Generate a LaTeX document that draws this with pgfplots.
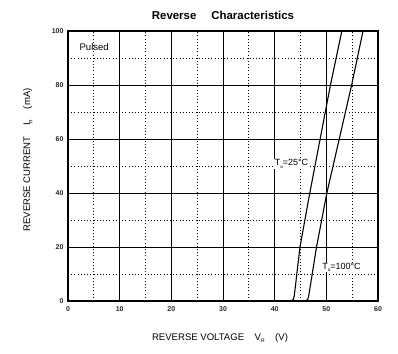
\documentclass[border=0pt]{standalone}
\usepackage{pgfplots}
\pgfplotsset{compat=1.18}
\usepackage{fontspec}
\setmainfont{Liberation Sans}
\begin{document}
\begin{tikzpicture}
\useasboundingbox (0,0) rectangle (398bp,354bp);
\begin{axis}[
  at={(68bp,53bp)}, anchor=south west,
  width=310bp, height=270bp, scale only axis,
  xmin=0, xmax=60, ymin=0, ymax=100,
  xtick={0,10,...,60}, ytick={0,20,...,100},
  minor x tick num=1, minor y tick num=1,
  grid=both,
  major grid style={black, line width=0.9pt},
  minor grid style={black, line width=0.9pt, dash pattern=on 1pt off 2.2pt},
  axis line style={black, line width=1.2pt},
  major tick length=0pt, minor tick length=0pt,
  tick label style={font=\bfseries\fontsize{7}{8}\selectfont, text=black!85},
  /pgf/number format/assume math mode=true,
  xticklabel style={yshift=-2bp},
  yticklabel style={xshift=-1bp},
  clip=true,
]
\addplot[black, line width=1.1pt] coordinates {
 (0,0) (43.2,0) (43.6,0.6) (43.8,2) (44.9,20) (46.8,40) (48.8,60) (50.8,80) (53.0,100)
};
\addplot[black, line width=1.1pt] coordinates {
 (0,0) (46.0,0) (46.4,0.6) (46.6,2) (48.1,20) (50.1,40) (52.5,60) (54.9,80) (57.1,100)
};
\node[anchor=west, inner sep=0pt, font=\fontsize{9.6}{10}\selectfont] at (axis cs:2.2,94.2) {Pulsed};
\node[anchor=west, fill=white, inner xsep=1pt, inner ysep=0.5pt, font=\fontsize{9}{10}\selectfont] at (axis cs:39.8,50.8) {T\raisebox{-2.5pt}{\fontsize{4.5}{5}\selectfont a}=25°C};
\node[anchor=west, fill=white, inner xsep=1pt, inner ysep=0.3pt, font=\fontsize{9}{10}\selectfont] at (axis cs:49.0,12.4) {T\raisebox{-2.5pt}{\fontsize{4.5}{5}\selectfont a}=100°C};
\end{axis}
\node[font=\bfseries\fontsize{11.5}{13}\selectfont] at (223bp,339bp) {Reverse\hspace{1.3em}Characteristics};
\node[font=\fontsize{9.6}{11}\selectfont] at (220bp,16bp) {REVERSE VOLTAGE\hspace{1.1em}V\raisebox{-2.5pt}{\fontsize{5}{6}\selectfont R}\hspace{1.1em}(V)};
\node[rotate=90, font=\fontsize{9.6}{11}\selectfont] at (28bp,194bp) {REVERSE CURRENT\hspace{1.1em}I\raisebox{-2.5pt}{\fontsize{5}{6}\selectfont R}\hspace{1.1em}(mA)};
\end{tikzpicture}
\end{document}
